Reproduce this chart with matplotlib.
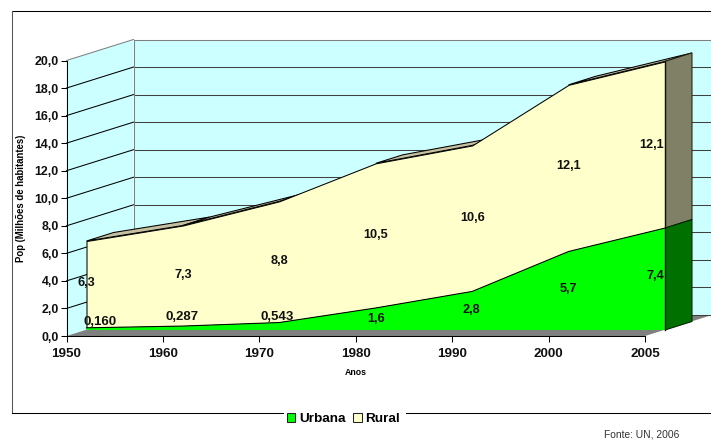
import numpy as np
import matplotlib
matplotlib.use('Agg')
import matplotlib.pyplot as plt
from matplotlib.lines import Line2D
from matplotlib.patches import Patch
from matplotlib.transforms import Affine2D

plt.rcParams['font.family'] = ['Liberation Sans', 'DejaVu Sans']

# dados
anos = ['1950', '1960', '1970', '1980', '1990', '2000', '2005']
urbana = [0.160, 0.287, 0.543, 1.6, 2.8, 5.7, 7.4]
rural = [6.3, 7.3, 8.8, 10.5, 10.6, 12.1, 12.1]
rotulos_urbana = ['0,160', '0,287', '0,543', '1,6', '2,8', '5,7', '7,4']
rotulos_rural = ['6,3', '7,3', '8,8', '10,5', '10,6', '12,1', '12,1']
y_ticks = [0, 2, 4, 6, 8, 10, 12, 14, 16, 18, 20]
y_labels = ['0,0', '2,0', '4,0', '6,0', '8,0', '10,0', '12,0', '14,0', '16,0', '18,0', '20,0']

W, H = 711, 440
# deslocamentos da perspectiva 3D, em pixels
PAREDE = (67, 21)
FRENTE = (20, 6)
FUNDO = (47, 14.5)
LW = 0.75

fig = plt.figure(figsize=(W / 100, H / 100), dpi=100)
ax = fig.add_axes([66.5 / W, 1 - 336 / H, 578.5 / W, 275.5 / H])
ax.set_xlim(0, 6)
ax.set_ylim(0, 20)
ax.patch.set_visible(False)


def desl(d):
    return ax.transData + Affine2D().translate(d[0], d[1])


x = np.arange(len(anos))
urb = np.array(urbana)
total = urb + np.array(rural)
zero = np.zeros(len(x))

px_x = 578.5 / 6
px_y = 275.5 / 20
parede_x = PAREDE[0] / px_x
parede_y = PAREDE[1] / px_y

# paredes e chao
ax.fill([0, 6, 6, 0], [0, 0, 20, 20], color='#CCFFFF', lw=0, transform=desl(PAREDE), clip_on=False, zorder=1)
ax.fill([0, 0, parede_x, parede_x], [0, 20, 20 + parede_y, parede_y], color='#CCFFFF', lw=0, clip_on=False, zorder=1)
ax.fill([0, 6, 6 + parede_x, parede_x], [0, 0, parede_y, parede_y], color='#808080', lw=0, clip_on=False, zorder=1)
for v in y_ticks:
    cor = '#808080' if v == 20 else '#404040'
    ax.plot([0, 6], [v, v], color=cor, lw=LW, transform=desl(PAREDE), clip_on=False, zorder=2)
    if v > 0:
        ax.plot([0, parede_x], [v, v + parede_y], color=cor if v == 20 else 'black', lw=LW, clip_on=False, zorder=2)
ax.plot([0, 0], [0, 20], color='#808080', lw=LW, transform=desl(PAREDE), clip_on=False, zorder=2)

# faces de cima, so onde aparecem
incl = (FUNDO[1] - FRENTE[1]) / (FUNDO[0] - FRENTE[0])
dx_fundo = (FUNDO[0] - FRENTE[0]) / px_x
dy_fundo = (FUNDO[1] - FRENTE[1]) / px_y
for i in range(len(x) - 1):
    if (total[i + 1] - total[i]) * px_y / ((x[i + 1] - x[i]) * px_x) < incl:
        ax.fill([x[i], x[i + 1], x[i + 1] + dx_fundo, x[i] + dx_fundo],
                [total[i], total[i + 1], total[i + 1] + dy_fundo, total[i] + dy_fundo],
                facecolor='#C4C0A0', edgecolor='black', lw=LW, transform=desl(FRENTE), clip_on=False, zorder=3)

# lateral direita
ax.fill([6, 6 + dx_fundo, 6 + dx_fundo, 6], [urb[-1], urb[-1] + dy_fundo, total[-1] + dy_fundo, total[-1]],
        facecolor='#808066', edgecolor='#222211', lw=LW, transform=desl(FRENTE), clip_on=False, zorder=3)
ax.fill([6, 6 + dx_fundo, 6 + dx_fundo, 6], [0, dy_fundo, urb[-1] + dy_fundo, urb[-1]],
        facecolor='#007000', edgecolor='#002200', lw=LW, transform=desl(FRENTE), clip_on=False, zorder=3)

# faces da frente
ax.fill_between(x, urb, total, facecolor='#FFFFCC', edgecolor='black', lw=LW, transform=desl(FRENTE), clip_on=False, zorder=4)
ax.fill_between(x, zero, urb, facecolor='#00FF00', lw=0, transform=desl(FRENTE), clip_on=False, zorder=4)
ax.plot(x, urb, color='black', lw=LW, transform=desl(FRENTE), clip_on=False, zorder=5)
ax.plot([6, 6], [0, total[-1]], color='#111100', lw=1, transform=desl(FRENTE), clip_on=False, zorder=5)

# rotulos de dados
off_rural = [(0, 1), (0, 1), (0, 1), (0, 1), (0, 0), (0, 2), (-13, 0)]
off_urbana = [(14, 7), (-1, 11), (-2, 9), (0, 0), (-1, 1), (0, 2), (-10, 3)]
for i in range(len(x)):
    ax.annotate(rotulos_rural[i], (x[i], urb[i] + rural[i] / 2), xycoords=desl(FRENTE),
                xytext=off_rural[i], textcoords='offset pixels', ha='center', va='center',
                fontsize=9.2, fontweight='bold', color='#111111', annotation_clip=False, zorder=6)
    ax.annotate(rotulos_urbana[i], (x[i], urb[i] / 2), xycoords=desl(FRENTE),
                xytext=off_urbana[i], textcoords='offset pixels', ha='center', va='center',
                fontsize=9.5 if i < 3 else 9.2, fontweight='bold', color='#111111', annotation_clip=False, zorder=6)

# eixos
for s in ['top', 'right']:
    ax.spines[s].set_visible(False)
for s in ['left', 'bottom']:
    ax.spines[s].set_linewidth(LW)
    ax.spines[s].set_zorder(7)
ax.set_xticks(x)
ax.set_xticklabels(anos, fontsize=9.6, fontweight='bold', color='#111111')
ax.set_yticks(y_ticks)
ax.set_yticklabels(y_labels, fontsize=8.9, fontweight='bold', color='#111111')
ax.tick_params(axis='x', length=4.5, width=LW, pad=4.2)
ax.tick_params(axis='y', length=4, width=LW, pad=1.5)
ax.set_xlabel('Anos', fontsize=6.3, fontweight='bold', labelpad=6)
ax.set_ylabel('Pop (Milhões de habitantes)', fontsize=6.9, fontweight='bold', labelpad=6)

# moldura com abertura para a legenda
def linha(xs, ys, cor):
    fig.add_artist(Line2D([v / W for v in xs], [1 - v / H for v in ys], color=cor, lw=LW))


linha([12, W], [11.5, 11.5], 'black')
linha([12, 12], [11.5, 413], '#555555')
linha([12, 283], [413, 413], 'black')
linha([406, W], [413, 413], 'black')

handles = [Patch(facecolor='#00FF00', edgecolor='#222222', lw=LW, label='Urbana'),
           Patch(facecolor='#FFFFCC', edgecolor='#222222', lw=LW, label='Rural')]
fig.legend(handles=handles, loc='center', bbox_to_anchor=(343.5 / W, 1 - 419 / H), ncol=2, frameon=False,
           prop={'size': 9.7, 'weight': 'bold'}, handlelength=0.65, handleheight=0.65,
           handletextpad=0.3, columnspacing=0.5, borderpad=0)

fig.text(642 / W, 1 - 434 / H, 'Fonte: UN, 2006', fontsize=7.4, color='#333333', ha='center', va='center')

fig.savefig('out.png', dpi=100)
